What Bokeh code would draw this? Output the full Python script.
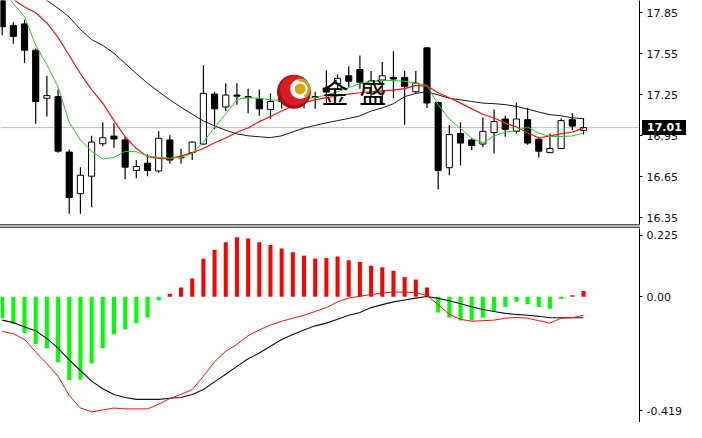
import numpy as np
from bokeh.plotting import figure
from bokeh.models import Range1d, FixedTicker, CustomJSTickFormatter, Span, Div
from bokeh.layouts import column
from bokeh.embed import file_html
from bokeh.resources import INLINE
from bokeh.core.properties import value

# ---------------- data ----------------
opens = [17.95, 17.757, 17.768, 17.576, 17.225, 17.237, 16.831, 16.527, 16.655, 16.892,
         16.948, 16.92, 16.697, 16.75, 16.693, 16.92, 16.789, 16.827, 16.89, 17.255,
         17.161, 17.248, 17.237, 17.218, 17.143, 17.20, 17.24, 17.237, 17.23, 17.30,
         17.33, 17.389, 17.435, 17.33, 17.358, 17.377, 17.377, 17.272, 17.593, 17.194,
         16.717, 16.967, 16.92, 16.89, 16.974, 17.073, 16.983, 17.068, 16.925, 16.827,
         16.857, 17.068, 16.99]
highs = [17.98, 17.78, 17.799, 17.588, 17.389, 17.288, 16.85, 16.721, 16.95, 17.049,
         17.042, 16.943, 16.773, 16.815, 16.983, 16.955, 16.855, 16.91, 17.466, 17.272,
         17.335, 17.335, 17.295, 17.288, 17.26, 17.30, 17.31, 17.27, 17.272, 17.43,
         17.40, 17.459, 17.537, 17.424, 17.489, 17.569, 17.424, 17.424, 17.60, 17.201,
         17.03, 17.049, 16.932, 17.084, 17.143, 17.096, 17.194, 17.154, 16.943, 16.967,
         17.077, 17.115, 17.08]
lows = [17.686, 17.623, 17.482, 17.038, 17.091, 16.827, 16.381, 16.381, 16.428, 16.873,
        16.862, 16.632, 16.639, 16.655, 16.68, 16.745, 16.745, 16.773, 16.885, 16.998,
        17.131, 17.178, 17.115, 17.096, 17.073, 17.15, 17.17, 17.15, 17.147, 17.19,
        17.29, 17.307, 17.295, 17.237, 17.19, 17.225, 17.031, 17.26, 17.154, 16.557,
        16.662, 16.733, 16.845, 16.866, 16.82, 16.943, 16.967, 16.885, 16.792, 16.827,
        16.857, 16.99, 16.96]
closes = [17.747, 17.677, 17.576, 17.201, 17.244, 16.838, 16.499, 16.662, 16.904, 16.936,
          16.927, 16.721, 16.726, 16.697, 16.932, 16.773, 16.796, 16.904, 17.26, 17.147,
          17.248, 17.24, 17.23, 17.147, 17.201, 17.24, 17.22, 17.216, 17.237, 17.27,
          17.37, 17.349, 17.342, 17.35, 17.389, 17.365, 17.312, 17.335, 17.19, 16.697,
          16.96, 16.897, 16.88, 16.983, 17.054, 16.998, 17.073, 16.897, 16.838, 16.857,
          17.061, 17.021, 17.01]

ma_fast = [18.009, 17.916, 17.822, 17.611, 17.470, 17.307, 17.047, 16.920, 16.838, 16.780,
           16.792, 16.836, 16.834, 16.803, 16.792, 16.787, 16.792, 16.820, 16.906, 17.012,
           17.110, 17.215, 17.229, 17.225, 17.213, 17.208, 17.213, 17.225, 17.229, 17.249,
           17.272, 17.302, 17.330, 17.347, 17.354, 17.354, 17.349, 17.335, 17.319, 17.178,
           17.073, 17.003, 16.932, 16.897, 16.949, 16.977, 16.987, 17.014, 16.970, 16.945,
           16.945, 16.949, 16.970]
ma_mid = [17.995, 17.946, 17.892, 17.850, 17.775, 17.670, 17.537, 17.405, 17.288, 17.189,
          17.061, 16.943, 16.857, 16.798, 16.785, 16.782, 16.803, 16.827, 16.857, 16.899,
          16.934, 16.976, 17.007, 17.054, 17.091, 17.131, 17.166, 17.194, 17.213, 17.229,
          17.241, 17.255, 17.265, 17.272, 17.279, 17.284, 17.295, 17.319, 17.314, 17.265,
          17.228, 17.189, 17.147, 17.108, 17.080, 17.043, 17.014, 16.973, 16.934, 16.949,
          16.964, 16.978, 17.004]
ma_slow = [18.220, 18.150, 18.080, 18.010, 17.939, 17.883, 17.818, 17.728, 17.653, 17.611,
           17.553, 17.480, 17.405, 17.335, 17.272, 17.213, 17.159, 17.108, 17.059, 17.022,
           16.991, 16.964, 16.950, 16.943, 16.937, 16.950, 16.979, 17.007, 17.026, 17.045,
           17.061, 17.077, 17.096, 17.131, 17.154, 17.185, 17.237, 17.260, 17.272, 17.249,
           17.225, 17.213, 17.201, 17.189, 17.185, 17.178, 17.166, 17.145, 17.124, 17.105,
           17.096, 17.082, 17.075]

macd_hist = [-0.079, -0.100, -0.133, -0.174, -0.189, -0.241, -0.306, -0.304, -0.245, -0.189,
             -0.138, -0.120, -0.097, -0.076, -0.014, 0.011, 0.034, 0.067, 0.140, 0.173,
             0.200, 0.219, 0.214, 0.200, 0.190, 0.177, 0.163, 0.151, 0.140, 0.142,
             0.148, 0.134, 0.128, 0.114, 0.108, 0.095, 0.072, 0.063, 0.034, -0.058,
             -0.077, -0.087, -0.087, -0.077, -0.053, -0.038, -0.018, -0.028, -0.038, -0.044,
             -0.008, 0.005, 0.021]
macd_line = [-0.127, -0.136, -0.157, -0.203, -0.246, -0.292, -0.363, -0.409, -0.423, -0.416,
             -0.409, -0.412, -0.412, -0.412, -0.395, -0.374, -0.359, -0.341, -0.292, -0.239,
             -0.200, -0.175, -0.143, -0.122, -0.104, -0.090, -0.079, -0.068, -0.054, -0.040,
             -0.019, -0.005, 0.002, 0.008, 0.013, 0.017, 0.017, 0.015, 0.004, -0.029,
             -0.065, -0.083, -0.090, -0.088, -0.086, -0.079, -0.076, -0.079, -0.088, -0.097,
             -0.079, -0.077, -0.068]
signal_line = [-0.086, -0.095, -0.111, -0.125, -0.154, -0.189, -0.232, -0.271, -0.310, -0.338,
               -0.359, -0.370, -0.377, -0.377, -0.377, -0.373, -0.370, -0.359, -0.341, -0.313,
               -0.285, -0.256, -0.228, -0.207, -0.182, -0.157, -0.139, -0.122, -0.107, -0.097,
               -0.083, -0.068, -0.058, -0.040, -0.029, -0.019, -0.012, -0.005, 0.001, -0.006,
               -0.015, -0.026, -0.037, -0.047, -0.054, -0.061, -0.065, -0.068, -0.072, -0.077,
               -0.077, -0.077, -0.077]

price_ticks = [16.35, 16.65, 16.95, 17.25, 17.55, 17.85]
macd_ticks = [-0.419, 0.0, 0.225]
last_price = 17.01
logo_chars = ["金", "盛"]

# ---------------- layout constants ----------------
W = 686
AXW = 47
H_PRICE = 224
H_SEP = 4
H_MACD = 194
FONT = "DejaVu Sans"
PRICE_LO, PRICE_HI = 16.3018, 17.9392

x = np.arange(len(opens))
o = np.array(opens); c = np.array(closes)
h = np.array(highs); l = np.array(lows)
bull = c >= o

x_range = Range1d(-0.149, 57.01)


def style_axis(p, ticks, code):
    ax = p.yaxis[0]
    ax.ticker = FixedTicker(ticks=ticks, minor_ticks=[])
    ax.formatter = CustomJSTickFormatter(code=code)
    ax.major_tick_out = 3
    ax.major_tick_in = 0
    ax.minor_tick_out = 0
    ax.minor_tick_in = 0
    ax.axis_line_color = "black"
    ax.axis_line_width = 1
    ax.major_tick_line_color = "black"
    ax.major_label_text_font = FONT
    ax.major_label_text_font_size = "11px"
    ax.major_label_text_color = "#111111"
    ax.major_label_standoff = 4


# ---------------- price panel ----------------
p = figure(width=W, height=H_PRICE, x_range=x_range, y_range=Range1d(PRICE_LO, PRICE_HI),
           output_backend="svg", toolbar_location=None, x_axis_location=None,
           y_axis_location="right", min_border_left=0, min_border_right=AXW,
           min_border_top=0, min_border_bottom=0, outline_line_color=None,
           background_fill_color="white", border_fill_color="white")
p.grid.visible = False
style_axis(p, price_ticks, "return tick.toFixed(2);")

p.add_layout(Span(location=last_price, dimension="width", line_color="#c0c0c0",
                  line_width=1, level="underlay"))

p.segment(x0=x, y0=h, x1=x, y1=l, line_color="black", line_width=1.2)
p.vbar(x=x[bull], width=0.55, top=c[bull], bottom=o[bull], fill_color="white",
       line_color="black", line_width=1)
p.vbar(x=x[~bull], width=0.55, top=o[~bull], bottom=c[~bull], fill_color="black",
       line_color="black", line_width=1)

p.line(x, ma_slow, line_color="#1a1a1a", line_width=1)
p.line(x, ma_mid, line_color="#ff1010", line_width=1.2)
p.line(x, ma_fast, line_color="#22cc22", line_width=1)

# logo (decoration)
LX, LY = 26.1, 17.272
DX, DY = 0.55, 0.021
p.scatter([LX], [LY], size=34, marker="circle", fill_color="#a80e18", line_color=None)
p.scatter([LX + 0.1], [LY + 0.01], size=30, marker="circle", fill_color="#d81e22", line_color=None)
p.scatter([LX + DX], [LY + DY], size=20, marker="circle", fill_color="white", line_color=None)
p.annular_wedge(x=[LX + DX], y=[LY + DY], inner_radius=7.5, outer_radius=10.5,
                inner_radius_units="screen", outer_radius_units="screen",
                start_angle=-60, end_angle=100, start_angle_units="deg", end_angle_units="deg",
                fill_color="#c9a227", line_color=None)
p.scatter([LX + DX], [LY + DY], size=11, marker="circle", fill_color="#d6a81c", line_color=None)
p.text(x=[29.77, 33.14], y=[LY, LY], text=logo_chars, text_font=value("Noto Sans CJK SC"),
       text_font_size="27px", text_align="center", text_baseline="middle", text_color="black")

# ---------------- separator (also carries the current-price tag) ----------------
tag_center = (PRICE_HI - last_price) / (PRICE_HI - PRICE_LO) * H_PRICE
tag_h = 15
tag_top = int(round(tag_center - tag_h / 2 - (H_PRICE + 1)))
tag_html = (f'<div style="position:absolute;left:{W - AXW + 3}px;top:{tag_top}px;'
            f'width:{AXW - 3}px;height:{tag_h}px;background:#000;color:#fff;'
            f'font-family:\'DejaVu Sans\';font-size:11px;font-weight:bold;'
            f'line-height:{tag_h}px;padding-left:5px;box-sizing:border-box;">{last_price:.2f}</div>')
sep = Div(text=tag_html, width=W - AXW + 1, height=H_SEP, margin=0,
          styles={"box-sizing": "border-box", "border-top": "1px solid #5a5a5a",
                  "border-bottom": "1px solid #5a5a5a", "background": "#b4b4b4",
                  "position": "relative", "overflow": "visible", "z-index": "10"})

# ---------------- MACD panel ----------------
m = figure(width=W, height=H_MACD, x_range=x_range, y_range=Range1d(-0.4621, 0.2507),
           output_backend="svg", toolbar_location=None, x_axis_location=None,
           y_axis_location="right", min_border_left=0, min_border_right=AXW,
           min_border_top=0, min_border_bottom=0, outline_line_color=None,
           background_fill_color="white", border_fill_color="white")
m.grid.visible = False
style_axis(m, macd_ticks, "if (Math.abs(tick) < 1e-9) { return '0.00'; } return tick.toFixed(3);")

hv = np.array(macd_hist)
pos = hv >= 0
m.vbar(x=x[pos], width=0.36, top=hv[pos], bottom=0, fill_color="#ff0000", line_color=None)
m.vbar(x=x[~pos], width=0.36, top=0, bottom=hv[~pos], fill_color="#00ff00", line_color=None)
m.line(x, signal_line, line_color="#111111", line_width=1.1)
m.line(x, macd_line, line_color="#ff1010", line_width=1)

layout = column(p, sep, m, spacing=0)
open("out.html", "w").write(file_html(layout, INLINE))
